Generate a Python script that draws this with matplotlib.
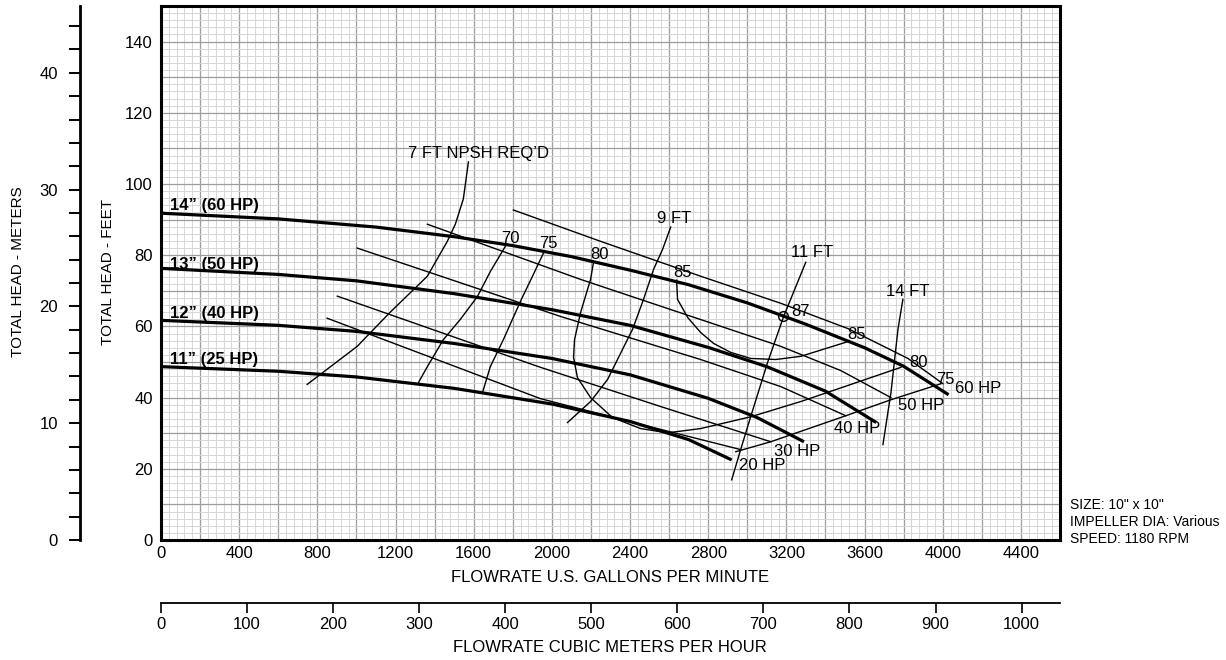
import matplotlib
matplotlib.use('Agg')
import matplotlib.pyplot as plt
from matplotlib.ticker import MultipleLocator, FixedLocator, FuncFormatter

plt.rcParams['font.family'] = ['Liberation Sans', 'DejaVu Sans']

# impeller head curves (gpm, ft)
imp14_q = [0, 600, 1100, 1500, 1800, 2100, 2400, 2700, 3000, 3300, 3600, 3800, 4030]
imp14_h = [91.8, 90.2, 87.9, 85.2, 82.7, 79.6, 75.8, 71.7, 66.6, 60.6, 54.0, 48.8, 40.8]
imp13_q = [0, 600, 1000, 1500, 2000, 2400, 2800, 3100, 3400, 3660]
imp13_h = [76.3, 74.6, 72.8, 69.2, 64.7, 60.3, 54.1, 48.7, 41.8, 33.0]
imp12_q = [0, 600, 1000, 1500, 2000, 2400, 2800, 3050, 3290]
imp12_h = [61.7, 60.3, 58.6, 55.2, 51.0, 46.4, 39.8, 34.4, 27.6]
imp11_q = [0, 600, 1000, 1500, 2000, 2400, 2700, 2920]
imp11_h = [48.7, 47.4, 45.8, 42.6, 38.2, 33.3, 28.2, 22.5]

imp_names = ['14\u201d (60 HP)', '13\u201d (50 HP)', '12\u201d (40 HP)', '11\u201d (25 HP)']
imp_label_q = [46, 46, 46, 46]
imp_label_h = [94.1, 77.5, 63.7, 50.7]

# horsepower lines
hp20_q = [850, 1942, 2403, 2966]
hp20_h = [62.3, 39.7, 33.2, 25.4]
hp30_q = [902, 1942, 2556, 3120]
hp30_h = [68.5, 48.5, 37.5, 27.6]
hp40_q = [1004, 2044, 2761, 3171, 3504]
hp40_h = [82.0, 62.8, 50.7, 43.1, 34.9]
hp50_q = [1363, 2147, 3171, 3478, 3735]
hp50_h = [88.7, 73.2, 54.4, 47.6, 40.0]
hp60_q = [1803, 2249, 2761, 3171, 3514, 3822, 4001]
hp60_h = [92.7, 83.9, 74.1, 66.5, 59.4, 51.0, 43.9]

hp_names = ['20 HP', '30 HP', '40 HP', '50 HP', '60 HP']
hp_label_q = [2956, 3135, 3443, 3770, 4062]
hp_label_h = [20.8, 24.8, 31.3, 37.7, 42.5]

# efficiency contours
eff70_q = [1762, 1686, 1619, 1532, 1445, 1363, 1317]
eff70_h = [82.5, 75.5, 68.4, 62.0, 56.3, 48.7, 44.2]
eff75a_q = [1957, 1901, 1844, 1752, 1685, 1645]
eff75a_h = [80.6, 74.1, 67.6, 56.3, 48.7, 41.4]
eff75b_q = [2941, 3120, 3504, 3735, 3991]
eff75b_h = [24.8, 27.6, 34.9, 39.4, 43.9]
eff80_q = [2213, 2198, 2147, 2116, 2111, 2131, 2198, 2310, 2454, 2592, 2761, 3017, 3274, 3530, 3786]
eff80_h = [78.0, 73.2, 63.9, 56.3, 51.3, 45.6, 40.0, 34.4, 31.3, 30.1, 31.3, 34.6, 38.9, 43.7, 48.5]
eff85_q = [2638, 2643, 2695, 2761, 2828, 2915, 3017, 3146, 3274, 3519]
eff85_h = [73.0, 67.6, 62.5, 58.3, 55.2, 52.7, 51.0, 50.7, 51.6, 55.8]
best_q = 3181
best_h = 62.8

eff_names = ['70', '75', '80', '85', '87', '85', '80', '75']
eff_label_q = [1788, 1983, 2244, 2669, 3274, 3560, 3878, 4011]
eff_label_h = [84.8, 83.4, 80.3, 75.2, 64.2, 57.7, 49.9, 45.1]

# NPSH required
npsh7_q = [1573, 1547, 1506, 1465, 1363, 1173, 1004, 748]
npsh7_h = [106.2, 95.8, 88.7, 83.9, 74.1, 64.0, 54.4, 43.7]
npsh9_q = [2608, 2567, 2521, 2469, 2413, 2285, 2198, 2080]
npsh9_h = [87.9, 81.7, 76.1, 67.6, 59.2, 45.1, 38.9, 33.0]
npsh11_q = [3299, 3186, 3104, 3017, 2966, 2920]
npsh11_h = [78.0, 62.8, 49.9, 34.6, 25.4, 16.9]
npsh14_q = [3796, 3771, 3735, 3694]
npsh14_h = [67.6, 59.2, 41.4, 26.8]

npsh_names = ['7 FT NPSH REQ\u2019D', '9 FT', '11 FT', '14 FT']
npsh_label_q = [1265, 2540, 3222, 3709]
npsh_label_h = [108.7, 90.4, 80.8, 69.7]

W, H = 1226, 660
fig = plt.figure(figsize=(W / 100, H / 100), dpi=100)
ax = fig.add_axes([161 / W, 120 / H, 899 / W, 534 / H])
ax.set_xlim(0, 4600)
ax.set_ylim(0, 150)

ax.xaxis.set_major_locator(MultipleLocator(200))
ax.xaxis.set_minor_locator(MultipleLocator(40))
ax.yaxis.set_major_locator(MultipleLocator(10))
ax.yaxis.set_minor_locator(MultipleLocator(2))
ax.xaxis.set_major_formatter(FuncFormatter(lambda v, p: '%d' % v if round(v) % 400 == 0 and v < 4500 else ''))
ax.yaxis.set_major_formatter(FuncFormatter(lambda v, p: '%d' % v if round(v) % 20 == 0 and v < 145 else ''))
ax.tick_params(which='both', length=0, labelsize=12)
ax.tick_params(axis='x', pad=4)
ax.tick_params(axis='y', pad=6)
ax.grid(which='minor', color='#d6d6d6', lw=0.7)
ax.grid(which='major', color='#9c9c9c', lw=0.9)
ax.set_axisbelow(True)
for s in ax.spines.values():
    s.set_linewidth(2.2)
    s.set_zorder(5)

thick = dict(color='black', lw=2.3, solid_capstyle='butt')
thin = dict(color='black', lw=1.0)

for q, h in [(imp14_q, imp14_h), (imp13_q, imp13_h), (imp12_q, imp12_h), (imp11_q, imp11_h)]:
    ax.plot(q, h, **thick)
for q, h in [(hp20_q, hp20_h), (hp30_q, hp30_h), (hp40_q, hp40_h), (hp50_q, hp50_h), (hp60_q, hp60_h)]:
    ax.plot(q, h, **thin)
for q, h in [(eff70_q, eff70_h), (eff75a_q, eff75a_h), (eff75b_q, eff75b_h), (eff80_q, eff80_h), (eff85_q, eff85_h)]:
    ax.plot(q, h, **thin)
for q, h in [(npsh7_q, npsh7_h), (npsh9_q, npsh9_h), (npsh11_q, npsh11_h), (npsh14_q, npsh14_h)]:
    ax.plot(q, h, **thin)
ax.plot(best_q, best_h, 'o', mfc='none', mec='black', ms=7, mew=1.0)

for name, q, h in zip(imp_names, imp_label_q, imp_label_h):
    ax.text(q, h, name, fontsize=12, fontweight='bold', ha='left', va='center')
for name, q, h in zip(hp_names, hp_label_q, hp_label_h):
    ax.text(q, h, name, fontsize=12, ha='left', va='center')
for name, q, h in zip(eff_names, eff_label_q, eff_label_h):
    ax.text(q, h, name, fontsize=12, ha='center', va='center')
for name, q, h in zip(npsh_names, npsh_label_q, npsh_label_h):
    ax.text(q, h, name, fontsize=12, ha='left', va='center')

# meters scale on the left
secy = ax.secondary_yaxis((80 - 161) / 899, functions=(lambda f: f * 0.3048, lambda m: m / 0.3048))
secy.yaxis.set_major_locator(FixedLocator([0, 10, 20, 30, 40]))
secy.yaxis.set_minor_locator(MultipleLocator(2))
secy.tick_params(which='both', direction='out', length=8, width=1.4, labelsize=12, pad=8)
secy.spines['left'].set_linewidth(2.0)

# cubic meters per hour scale below
secx = ax.secondary_xaxis((540 - 603) / 534, functions=(lambda g: g * 0.2271, lambda m: m / 0.2271))
secx.xaxis.set_major_locator(FixedLocator([0, 100, 200, 300, 400, 500, 600, 700, 800, 900, 1000]))
secx.tick_params(which='both', direction='out', length=7, width=1.2, labelsize=12, pad=3)
secx.spines['bottom'].set_linewidth(1.3)

fig.text(610 / W, 1 - 578 / H, 'FLOWRATE U.S. GALLONS PER MINUTE', fontsize=12, ha='center', va='center')
fig.text(610 / W, 1 - 648 / H, 'FLOWRATE CUBIC METERS PER HOUR', fontsize=12, ha='center', va='center')
fig.text(108 / W, 1 - 272 / H, 'TOTAL HEAD - FEET', fontsize=11, rotation=90, ha='center', va='center')
fig.text(18 / W, 1 - 272 / H, 'TOTAL HEAD - METERS', fontsize=11, rotation=90, ha='center', va='center')

fig.text(1070 / W, 1 - 505 / H, 'SIZE: 10" x 10"', fontsize=10, ha='left', va='center')
fig.text(1070 / W, 1 - 522 / H, 'IMPELLER DIA: Various', fontsize=10, ha='left', va='center')
fig.text(1070 / W, 1 - 539 / H, 'SPEED: 1180 RPM', fontsize=10, ha='left', va='center')

fig.savefig('out.png', dpi=100)
